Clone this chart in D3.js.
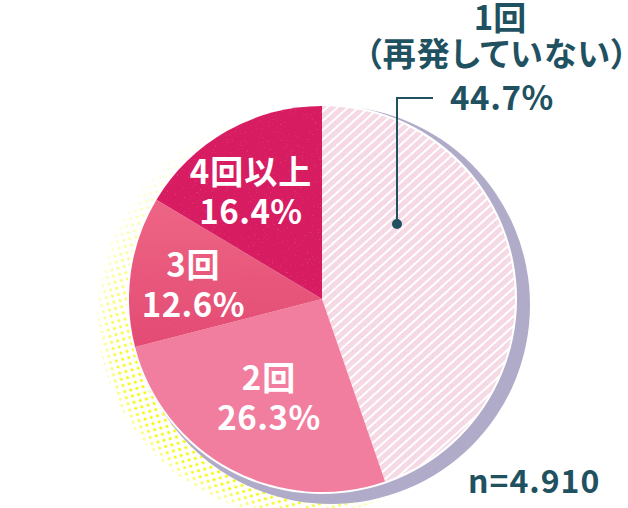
<!DOCTYPE html>
<html>
<head>
<meta charset="utf-8">
<script src="https://cdn.jsdelivr.net/npm/d3@7"></script>
<style>
html, body { margin: 0; padding: 0; background: #fff; }
svg { display: block; }
text { font-family: "Noto Sans CJK JP", sans-serif; font-weight: 700; font-feature-settings: "palt"; }
</style>
</head>
<body>
<div class="chart"></div>
<script>
var categories = ["1回", "2回", "3回", "4回以上"];
var shares = [44.7, 26.3, 12.6, 16.4];
var colors = ["#f5d9e4", "#f27e9f", "#e9577b", "#d81f62"];
var sampleLabel = "n=4.910";
var titleLines = ["1回", "（再発していない）"];

var width = 628, height = 508;
var cx = 322, cy = 299, radius = 193;

var svg = d3.select(".chart").append("svg")
    .attr("width", width)
    .attr("height", height);

var defs = svg.append("defs");

// white stripes on the first slice
var stripes = defs.append("pattern")
    .attr("id", "stripes")
    .attr("patternUnits", "userSpaceOnUse")
    .attr("width", 7)
    .attr("height", 7)
    .attr("patternTransform", "rotate(-42)");
stripes.append("rect").attr("width", 7).attr("height", 7).attr("fill", colors[0]);
stripes.append("rect").attr("width", 7).attr("height", 2).attr("fill", "#fff");

// third slice is lighter at the top
var shade = defs.append("linearGradient")
    .attr("id", "shade3")
    .attr("x1", 0).attr("y1", 0)
    .attr("x2", 0).attr("y2", 1);
shade.append("stop").attr("offset", 0).attr("stop-color", "#ee6584");
shade.append("stop").attr("offset", 1).attr("stop-color", "#e34b74");

// yellow halftone behind the pie
var dots = defs.append("pattern")
    .attr("id", "dots")
    .attr("patternUnits", "userSpaceOnUse")
    .attr("width", 9)
    .attr("height", 9)
    .attr("patternTransform", "rotate(30)");
dots.append("circle").attr("cx", 2.25).attr("cy", 2.25).attr("r", 1.5).attr("fill", "#f4f800");
dots.append("circle").attr("cx", 6.75).attr("cy", 6.75).attr("r", 1.5).attr("fill", "#f4f800");

var fade = defs.append("linearGradient")
    .attr("id", "fade")
    .attr("x1", 0.75).attr("y1", 0.95)
    .attr("x2", 0.2).attr("y2", 0.1);
fade.append("stop").attr("offset", 0).attr("stop-color", "#fff");
fade.append("stop").attr("offset", 0.6).attr("stop-color", "#fff");
fade.append("stop").attr("offset", 1).attr("stop-color", "#222");
defs.append("mask").attr("id", "fadeMask")
    .attr("maskContentUnits", "userSpaceOnUse")
    .append("circle")
    .attr("cx", 300).attr("cy", 314).attr("r", 203)
    .attr("fill", "url(#fade)");

// outer edge of the halftone gets thinner
var edge = defs.append("radialGradient").attr("id", "edge");
edge.append("stop").attr("offset", 0.93).attr("stop-color", "#fff");
edge.append("stop").attr("offset", 1).attr("stop-color", "#444");
defs.append("mask").attr("id", "edgeMask")
    .attr("maskContentUnits", "userSpaceOnUse")
    .append("circle")
    .attr("cx", 300).attr("cy", 314).attr("r", 203)
    .attr("fill", "url(#edge)");

// speckle
var grain = defs.append("filter")
    .attr("id", "grain")
    .attr("x", 0).attr("y", 0).attr("width", 1).attr("height", 1);
grain.append("feTurbulence")
    .attr("type", "fractalNoise")
    .attr("baseFrequency", 0.6)
    .attr("numOctaves", 2)
    .attr("seed", 4)
    .attr("result", "n");
grain.append("feColorMatrix")
    .attr("in", "n")
    .attr("type", "matrix")
    .attr("values", "0 0 0 0 0.85  0 0 0 0 0.2  0 0 0 0 0.42  0 0 0 1.2 -0.8")
    .attr("result", "s");
grain.append("feComposite").attr("in", "s").attr("in2", "SourceAlpha").attr("operator", "in").attr("result", "c");
grain.append("feMerge").selectAll("feMergeNode")
    .data(["SourceGraphic", "c"])
    .enter().append("feMergeNode")
    .attr("in", function(d) { return d; });

svg.append("g")
    .attr("mask", "url(#edgeMask)")
    .append("circle")
    .attr("cx", 300).attr("cy", 314).attr("r", 203)
    .attr("fill", "url(#dots)")
    .attr("mask", "url(#fadeMask)");

// lilac shadow disc
svg.append("circle")
    .attr("cx", cx + 9).attr("cy", cy + 6).attr("r", radius + 6)
    .attr("fill", "#b0abc9");

// white ring round the pie
svg.append("circle")
    .attr("cx", cx).attr("cy", cy).attr("r", radius + 2)
    .attr("fill", "#fff");

var pie = d3.pie().sort(null).value(function(d) { return d; });
var arc = d3.arc().innerRadius(0).outerRadius(radius);
var arcs = pie(shares);

var g = svg.append("g")
    .attr("transform", "translate(" + cx + "," + cy + ")");

g.append("g")
    .attr("filter", "url(#grain)")
    .selectAll("path")
    .data(arcs)
    .enter().append("path")
    .attr("d", arc)
    .attr("fill", function(d, i) {
        if (i === 0) return "url(#stripes)";
        if (i === 2) return "url(#shade3)";
        return colors[i];
    });

// labels inside the slices, placed from the slice centroid
var labelRadius = [0, 112, 131, 126];
var labelNudge = [null, [0, 0], [1, 5], [-9, 3]];

arcs.forEach(function(d, i) {
    if (i === 0) return;
    var mid = (d.startAngle + d.endAngle) / 2;
    var x = Math.sin(mid) * labelRadius[i] + labelNudge[i][0];
    var y = -Math.cos(mid) * labelRadius[i] + labelNudge[i][1];
    var t = g.append("text")
        .attr("text-anchor", "middle")
        .attr("fill", "#fff")
        .attr("font-size", 33);
    t.append("tspan").attr("x", x).attr("y", y - 8).style("letter-spacing", "1px").text(categories[i]);
    t.append("tspan").attr("x", x).attr("y", y + 32)
        .style("letter-spacing", "0.5px")
        .text(shares[i].toFixed(1) + "%");
});

// first slice is labelled outside with a leader
var ink = "#1f5161";
var leader = { dotX: 397, dotY: 224, topY: 98, endX: 433 };

svg.append("path")
    .attr("d", d3.line()([[leader.dotX, leader.dotY], [leader.dotX, leader.topY], [leader.endX, leader.topY]]))
    .attr("fill", "none")
    .attr("stroke", ink)
    .attr("stroke-width", 2);
svg.append("circle")
    .attr("cx", leader.dotX).attr("cy", leader.dotY).attr("r", 5)
    .attr("fill", ink);

svg.append("text")
    .attr("x", 500).attr("y", 30)
    .attr("text-anchor", "middle")
    .attr("fill", ink)
    .attr("font-size", 33)
    .text(titleLines[0]);
svg.append("text")
    .attr("x", 497).attr("y", 66)
    .attr("text-anchor", "middle")
    .attr("fill", ink)
    .attr("font-size", 33)
    .style("letter-spacing", "1.2px")
    .text(titleLines[1]);
svg.append("text")
    .attr("x", 450).attr("y", 110)
    .attr("fill", ink)
    .attr("font-size", 33)
    .style("letter-spacing", "0.6px")
    .text(shares[0].toFixed(1) + "%");
svg.append("text")
    .attr("x", 468).attr("y", 493)
    .attr("fill", ink)
    .attr("font-size", 32)
    .style("letter-spacing", "1px")
    .text(sampleLabel);
</script>
</body>
</html>
